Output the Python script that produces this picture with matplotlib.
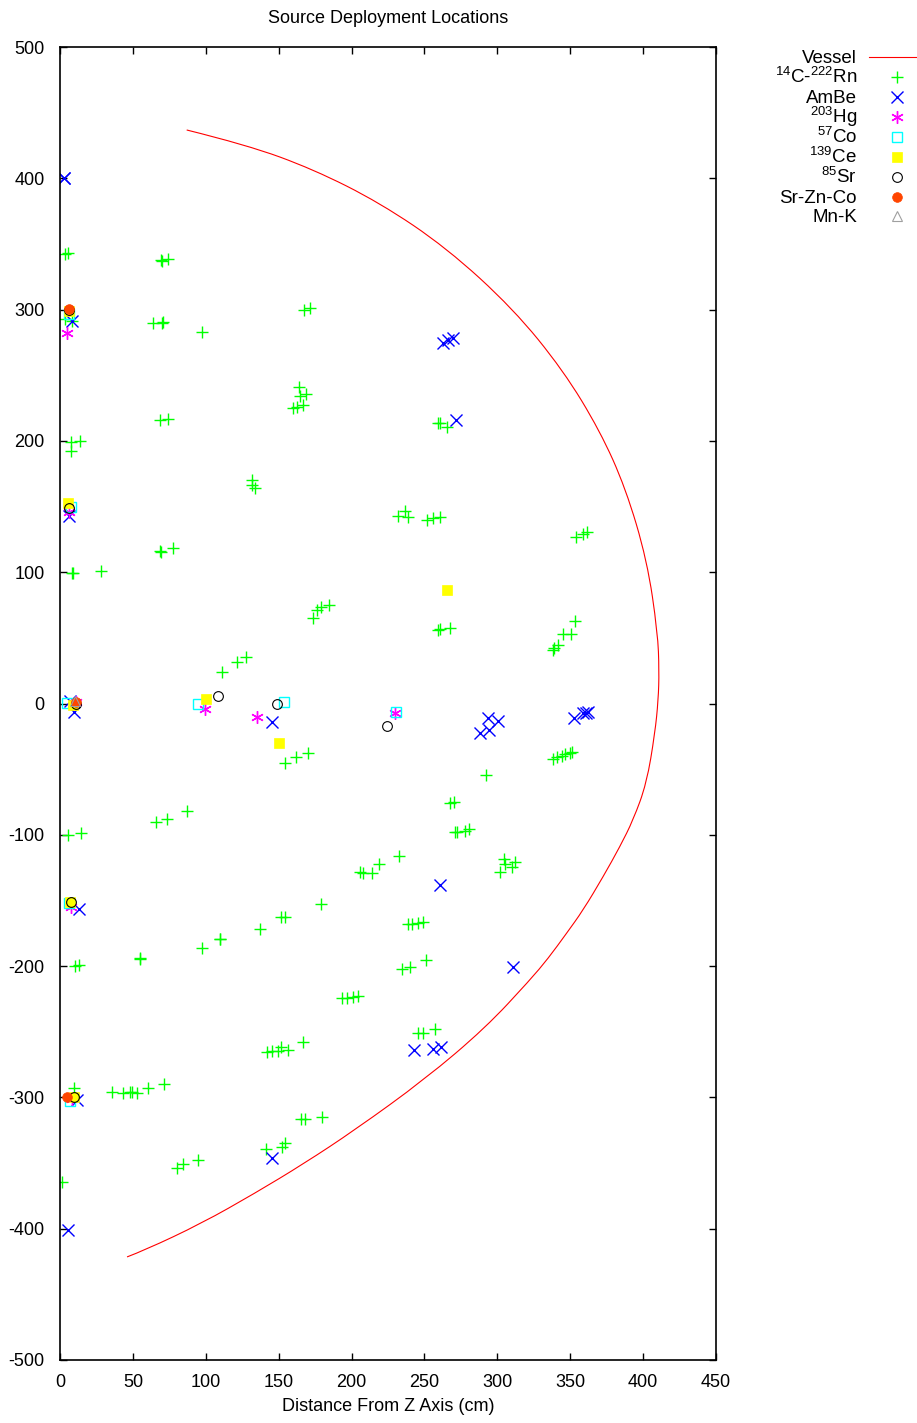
import matplotlib
matplotlib.use("Agg")
import matplotlib.pyplot as plt
from matplotlib.lines import Line2D
from matplotlib.path import Path
from matplotlib.patches import PathPatch

plt.rcParams['font.family'] = ['Liberation Sans', 'DejaVu Sans']
plt.rcParams['mathtext.fontset'] = 'custom'
plt.rcParams['mathtext.rm'] = 'Liberation Sans'
plt.rcParams['axes.unicode_minus'] = False

# vessel outline (cm)
vessel_x = [86.9, 128.0, 173.7, 219.5, 265.2, 310.9, 345.2, 370.4, 388.0, 402.7,
            410.0, 411.0, 410.4, 408.1, 402.4, 393.2, 384.1, 372.6, 358.9, 347.5,
            334.9, 322.4, 291.8, 250.3, 202.3, 167.2, 133.7, 97.2, 58.3, 46.0]
vessel_y = [436.8, 425.5, 406.9, 381.3, 347.0, 300.6, 253.7, 207.6, 164.0, 109.0,
            54.0, 25.0, 2.7, -22.7, -60.8, -88.7, -109.0, -131.9, -157.3, -175.0,
            -194.1, -210.6, -247.1, -286.2, -324.8, -350.5, -373.0, -395.9, -416.3, -421.5]

# 14C-222Rn
rn_x = [3.4, 5.7, 69.3, 70.0, 74.3, 3.5, 8.5, 64.0, 69.7, 70.9, 97.2, 167.4, 171.5,
        68.6, 74.3, 7.5, 13.7, 7.5, 131.9, 131.5, 133.8,
        164.1, 164.6, 168.7, 166.5, 162.3, 159.6, 259.5, 260.6, 265.2,
        68.6, 69.3, 77.7, 8.0, 9.1, 27.9,
        231.8, 236.6, 238.7, 251.7, 255.8, 260.6, 354.0, 359.0, 361.5,
        259.5, 260.6, 267.5, 353.2, 345.2, 350.5, 341.8, 339.0, 338.3,
        176.5, 179.3, 173.8, 184.8,
        110.9, 121.2, 127.6, 154.3, 161.9, 170.3,
        338.3, 340.7, 344.1, 346.4, 349.8, 351.0, 292.2,
        267.5, 270.2, 270.9, 272.5, 277.8, 280.7,
        232.7, 219.0, 205.8, 208.0, 214.2,
        304.5, 305.2, 312.1, 309.8, 301.8,
        238.9, 241.2, 245.8, 248.8, 234.8, 240.1, 251.0,
        5.7, 14.4, 65.8, 73.6, 86.9,
        179.2, 151.6, 154.3, 137.4, 109.7, 110.0, 97.6, 54.9, 55.2, 10.3, 13.0,
        193.2, 196.6, 201.2, 204.6,
        141.8, 145.2, 149.3, 151.6, 156.6, 166.5, 245.8, 248.8, 257.2,
        9.8, 35.9, 43.4, 48.0, 49.6, 52.6, 60.6, 71.5, 1.6,
        80.0, 84.6, 94.4, 141.1, 152.1, 154.3, 165.3, 168.0, 179.9]
rn_y = [342.0, 343.0, 337.8, 337.0, 338.8, 292.6, 291.0, 289.6, 289.6, 290.3, 282.7, 299.6, 301.1,
        216.0, 216.5, 199.4, 200.2, 192.3, 170.2, 166.4, 163.9,
        241.3, 234.2, 235.5, 227.3, 226.0, 224.8, 213.9, 213.4, 210.8,
        116.4, 115.6, 118.2, 99.6, 99.2, 101.1,
        142.8, 146.6, 142.0, 139.8, 141.3, 142.0, 126.8, 129.0, 130.5,
        56.0, 56.7, 57.3, 63.0, 52.9, 52.9, 44.6, 42.0, 40.7,
        71.3, 73.6, 65.2, 75.2,
        24.2, 31.8, 35.2, -45.1, -40.5, -37.5,
        -42.5, -41.0, -40.0, -38.7, -37.5, -36.7, -54.5,
        -76.0, -74.8, -97.6, -97.6, -96.9, -95.8,
        -115.9, -122.5, -128.1, -129.3, -129.3,
        -118.4, -122.2, -120.5, -124.3, -128.1,
        -168.2, -167.9, -167.4, -166.2, -202.4, -200.9, -195.6,
        -100.2, -98.9, -90.0, -88.2, -81.9,
        -152.7, -162.4, -162.4, -172.0, -179.6, -179.0, -186.5, -194.6, -194.0, -199.7, -198.9,
        -224.5, -224.1, -223.8, -222.8,
        -265.6, -264.7, -264.7, -261.4, -263.9, -257.6, -250.7, -250.7, -248.1,
        -293.1, -295.6, -296.9, -296.1, -296.1, -296.9, -293.1, -289.8, -364.2,
        -354.0, -351.0, -347.7, -339.5, -338.0, -334.5, -316.7, -316.7, -314.7]

# AmBe
ambe_x = [3.0, 2.5, 8.0, 262.9, 266.3, 269.8, 271.6, 6.2, 9.6, 7.0, 145.6,
          293.8, 300.2, 294.5, 288.0, 352.5, 359.0, 360.8, 362.4,
          260.6, 13.0, 310.5, 243.0, 256.0, 261.3, 145.6, 11.4, 5.7]
ambe_y = [400.5, 400.0, 291.5, 274.3, 276.8, 278.1, 215.9, 142.8, -6.7, 2.0, -14.3,
          -11.3, -13.3, -20.2, -22.7, -11.3, -7.5, -7.0, -6.2,
          -138.2, -156.8, -200.5, -263.9, -263.4, -261.8, -346.4, -302.0, -401.0]

# 203Hg
hg_x = [5.0, 6.4, 99.5, 135.3, 229.8, 11.0, 7.5, 8.0]
hg_y = [282.0, 146.0, -4.2, -10.0, -7.5, 1.0, -154.8, -301.0]

# 57Co
co_x = [6.0, 7.5, 94.4, 153.4, 230.5, 5.0, 6.9, 6.5]
co_y = [297.0, 150.0, -0.4, 1.1, -6.2, 0.5, -303.0, -152.0]

# 139Ce
ce_x = [6.0, 5.7, 100.1, 150.4, 265.2, 9.0, 7.0, 9.8]
ce_y = [299.0, 153.0, 3.2, -30.3, 86.4, -1.0, -151.0, -300.0]

# 85Sr
sr_x = [6.5, 6.4, 108.2, 148.6, 224.5, 10.7, 7.5, 9.8]
sr_y = [300.0, 149.0, 5.9, -0.4, -16.9, 0.0, -151.0, -300.0]

# Sr-Zn-Co
szc_x = [6.4, 11.0, 4.6]
szc_y = [300.2, 1.3, -299.5]

# Mn-K
mnk_x = [10.0]
mnk_y = [2.0]

fig = plt.figure(figsize=(9.17, 14.23), dpi=100)
ax = fig.add_axes([60 / 917, 1 - 1360 / 1423, 656 / 917, 1313 / 1423])

asterisk = (6, 2, 0)
styles = [
    (r'$\mathregular{^{14}}$C-$\mathregular{^{222}}$Rn', rn_x, rn_y,
     dict(marker='+', color='#00ff00', ms=9, mew=1.0, mfc='none')),
    ('AmBe', ambe_x, ambe_y, dict(marker='x', color='#0000ff', ms=8, mew=1.0, mfc='none')),
    (r'$\mathregular{^{203}}$Hg', hg_x, hg_y,
     dict(marker=asterisk, color='#ff00ff', ms=9, mew=1.0, mfc='none')),
    (r'$\mathregular{^{57}}$Co', co_x, co_y,
     dict(marker='s', color='#00ffff', ms=7, mew=1.0, mfc='none')),
    (r'$\mathregular{^{139}}$Ce', ce_x, ce_y,
     dict(marker='s', color='#ffff00', ms=7, mew=0.5, mfc='#ffff00')),
    (r'$\mathregular{^{85}}$Sr', sr_x, sr_y,
     dict(marker='o', color='#000000', ms=7, mew=0.8, mfc='none')),
    ('Sr-Zn-Co', szc_x, szc_y,
     dict(marker='o', color='#ff4500', ms=7, mew=0.5, mfc='#ff4500')),
    ('Mn-K', mnk_x, mnk_y,
     dict(marker='^', color='#a0a0a0', ms=7, mew=0.8, mfc='none')),
]

# vessel drawn as a smooth quadratic path through the read points
pts = list(zip(vessel_x, vessel_y))
verts = [pts[0]]
codes = [Path.MOVETO]
for i in range(1, len(pts) - 2):
    mid = ((pts[i][0] + pts[i + 1][0]) / 2, (pts[i][1] + pts[i + 1][1]) / 2)
    verts += [pts[i], mid]
    codes += [Path.CURVE3, Path.CURVE3]
verts += [pts[-2], pts[-1]]
codes += [Path.CURVE3, Path.CURVE3]
ax.add_patch(PathPatch(Path(verts, codes), fc='none', ec='#ff0000', lw=0.8))

for label, xs, ys, st in styles:
    ax.plot(xs, ys, ls='none', **st)

ax.set_xlim(0, 450)
ax.set_ylim(-500, 500)
ax.set_xticks(range(0, 451, 50))
ax.set_yticks(range(-500, 501, 100))
ax.tick_params(direction='in', top=True, right=True, labelsize=13, length=5, width=1)
ax.tick_params(axis='x', pad=10)
ax.tick_params(axis='y', pad=11)
for sp in ax.spines.values():
    sp.set_linewidth(1.2)
ax.set_xlabel('Distance From Z Axis (cm)', fontsize=13, labelpad=5)
ax.set_title('Source Deployment Locations', fontsize=13, pad=17)

# gnuplot style key, text right aligned with the sample on its right
W, H = 917.0, 1423.0
key_rows = [57, 77, 97, 117, 137, 157, 177, 197, 216]
fig.text(857 / W, 1 - (key_rows[0] + 6) / H, 'Vessel', ha='right', va='baseline', fontsize=13.5)
fig.add_artist(Line2D([869 / W, 917 / W], [1 - key_rows[0] / H] * 2, color='#ff0000', lw=0.8))
for (label, xs, ys, st), row in zip(styles, key_rows[1:]):
    fig.text(857 / W, 1 - (row + 6) / H, label, ha='right', va='baseline', fontsize=13.5)
    fig.add_artist(Line2D([897 / W], [1 - row / H], ls='none', **st))

fig.savefig('out.png', dpi=100)
